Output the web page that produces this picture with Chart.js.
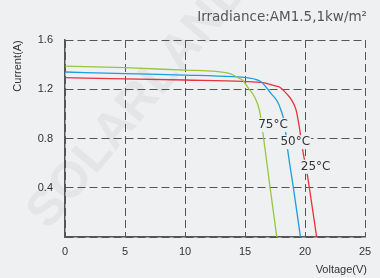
<!DOCTYPE html>
<html><head><meta charset="utf-8">
<script src="https://cdn.jsdelivr.net/npm/chart.js@4"></script>
<style>html,body{margin:0;padding:0;background:#eef0f1;}#wrap{width:380px;height:278px;}</style>
</head><body><div id="wrap"><canvas id="c" width="380" height="278"></canvas></div>
<script>
const titleText = "Irradiance:AM1.5,1kw/m²";
const xTitle = "Voltage(V)";
const yTitle = "Current(A)";
const xTicks = [0, 5, 10, 15, 20, 25];
const yTicks = [0.4, 0.8, 1.2, 1.6];

const v75 = [0, 5, 10, 12.6, 13.8, 14.5, 14.82, 15.2, 15.8, 16.2, 16.48, 17.1, 17.65];
const i75 = [1.388, 1.375, 1.355, 1.345, 1.325, 1.29, 1.272, 1.22, 1.137, 1.03, 0.853, 0.395, 0];
const v50 = [0, 5, 10, 14, 15.1, 16.35, 17.18, 17.7, 18.0, 18.3, 18.56, 19.04, 19.62];
const i50 = [1.34, 1.327, 1.315, 1.302, 1.294, 1.259, 1.165, 1.1, 1.03, 0.92, 0.705, 0.395, 0];
const v25 = [0, 5, 10, 14.8, 16.5, 17.6, 17.87, 18.5, 18.9, 19.26, 19.53, 19.81, 20.22, 20.37, 20.97];
const i25 = [1.294, 1.285, 1.275, 1.264, 1.254, 1.225, 1.218, 1.16, 1.11, 1.03, 0.89, 0.705, 0.49, 0.395, 0];

const curveLabels = ["75°C", "50°C", "25°C"];
const labelV = [16.1, 17.95, 19.65];
const labelI = [0.91, 0.77, 0.57];

const BG = "#eef0f1";
const pts = (v, i) => v.map((x, k) => ({x: x, y: i[k]}));

const textPlugin = {
  id: 'texts',
  beforeDraw(chart) {
    const ctx = chart.ctx;
    ctx.save();
    ctx.fillStyle = BG;
    ctx.fillRect(0, 0, chart.width, chart.height);
    ctx.translate(38, 222);
    ctx.rotate(-50 * Math.PI / 180);
    ctx.font = "bold 50px 'Liberation Sans', Arial, sans-serif";
    ctx.fillStyle = "rgba(120,120,120,0.09)";
    ctx.textBaseline = "middle";
    ctx.fillText("SOLARLAND", 0, 0);
    ctx.restore();
  },
  afterDatasetsDraw(chart) {
    const ctx = chart.ctx;
    const xs = chart.scales.x, ys = chart.scales.y;
    ctx.save();
    ctx.font = "12px 'DejaVu Sans', sans-serif";
    ctx.textBaseline = "middle";
    ctx.textAlign = "left";
    for (let k = 0; k < curveLabels.length; k++) {
      const px = xs.getPixelForValue(labelV[k]);
      const py = ys.getPixelForValue(labelI[k]);
      const w = ctx.measureText(curveLabels[k]).width;
      ctx.fillStyle = BG;
      ctx.fillRect(px - 1, py - 7, w + 2, 14);
      ctx.fillStyle = "#333";
      ctx.fillText(curveLabels[k], px, py);
    }
    ctx.restore();
  },
  afterDraw(chart) {
    const ctx = chart.ctx;
    ctx.save();
    ctx.fillStyle = "#555";
    ctx.font = "13.5px 'DejaVu Sans', sans-serif";
    ctx.textAlign = "right";
    ctx.textBaseline = "middle";
    ctx.fillText(titleText, 367, 17);
    ctx.font = "11px 'Liberation Sans', Arial, sans-serif";
    ctx.fillStyle = "#333";
    ctx.fillText(xTitle, 367, 270);
    ctx.translate(18, 66);
    ctx.rotate(-Math.PI / 2);
    ctx.textAlign = "center";
    ctx.fillText(yTitle, 0, 0);
    ctx.restore();
  }
};

const mk = (v, i, c) => ({
  data: pts(v, i), borderColor: c, borderWidth: 1.3, pointRadius: 0,
  showLine: true, fill: false, cubicInterpolationMode: 'monotone'
});

new Chart(document.getElementById('c'), {
  type: 'scatter',
  data: { datasets: [
    mk(v75, i75, '#96c83c'),
    mk(v50, i50, '#1a9ee0'),
    mk(v25, i25, '#e8323c')
  ]},
  options: {
    responsive: false, animation: false, devicePixelRatio: 1,
    layout: { padding: { top: 40, right: 15, left: 0, bottom: 0 } },
    plugins: { legend: { display: false }, tooltip: { enabled: false }, title: { display: false } },
    scales: {
      x: {
        type: 'linear', min: 0, max: 25,
        afterFit(s) { s.height = 41; },
        afterBuildTicks(s) { s.ticks = xTicks.map(v => ({value: v})); },
        ticks: { color: '#333', font: { size: 11, family: "'Liberation Sans', Arial, sans-serif" }, padding: 8, maxRotation: 0 },
        grid: { color: '#555', lineWidth: 1, drawTicks: false },
        border: { color: '#555', width: 1.5, dash: [8, 4] }
      },
      y: {
        type: 'linear', min: 0, max: 1.6,
        afterFit(s) { s.width = 65; },
        afterBuildTicks(s) { s.ticks = [0].concat(yTicks).map(v => ({value: v})); },
        ticks: { color: '#333', font: { size: 11, family: "'Liberation Sans', Arial, sans-serif" }, padding: 12,
          callback: v => v === 0 ? '' : v.toFixed(1) },
        grid: { color: '#555', lineWidth: 1, drawTicks: false },
        border: { color: '#555', width: 1.5, dash: [8, 4] }
      }
    }
  },
  plugins: [textPlugin]
});
</script></body></html>
